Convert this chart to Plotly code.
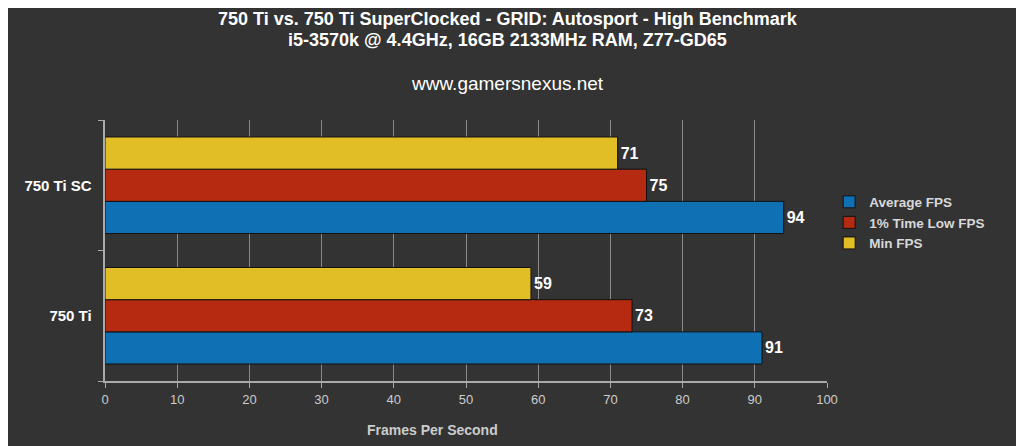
import plotly.graph_objects as go

gpus = ['750 Ti', '750 Ti SC']
avg_fps = [91, 94]
low_fps = [73, 75]
min_fps = [59, 71]
x_ticks = [0, 10, 20, 30, 40, 50, 60, 70, 80, 90, 100]

series = [
    ('Average FPS', avg_fps, '#1070b4'),
    ('1% Time Low FPS', low_fps, '#b52a10'),
    ('Min FPS', min_fps, '#e2be26'),
]

fig = go.Figure()
for name, vals, col in series:
    fig.add_trace(go.Bar(
        name=name, y=gpus, x=vals, orientation='h',
        marker=dict(color=col, line=dict(color='#111111', width=1)),
        text=['<b>%d</b>' % v for v in vals], textposition='outside',
        textfont=dict(family='Liberation Sans', size=16, color='#ffffff'),
        cliponaxis=False,
    ))

# page has an 8px body margin, so the figure is a bit smaller than the window
title_font = dict(family='Liberation Sans', size=18, color='#ffffff')
fig.update_layout(
    width=1016, height=438,
    paper_bgcolor='#333333', plot_bgcolor='#333333',
    barmode='group', bargap=0.26, bargroupgap=0,
    margin=dict(l=97, r=197, t=112, b=65),
    legend=dict(
        x=1.003, y=0.745, xanchor='left', yanchor='top',
        traceorder='normal',
        font=dict(family='Liberation Sans', size=13.5, color='#d8d8d8', weight='bold'),
        itemwidth=30, tracegroupgap=0,
        bgcolor='rgba(0,0,0,0)',
    ),
    showlegend=True,
    annotations=[
        dict(text='<b>750 Ti vs. 750 Ti SuperClocked - GRID: Autosport - High Benchmark</b>',
             xref='paper', yref='paper', x=0.558, y=1.387, xanchor='center', yanchor='middle',
             showarrow=False, font=title_font),
        dict(text='<b>i5-3570k @ 4.4GHz, 16GB 2133MHz RAM, Z77-GD65</b>',
             xref='paper', yref='paper', x=0.558, y=1.307, xanchor='center', yanchor='middle',
             showarrow=False, font=title_font),
        dict(text='www.gamersnexus.net', xref='paper', yref='paper',
             x=0.558, y=1.138, xanchor='center', yanchor='middle', showarrow=False,
             font=dict(family='Liberation Sans', size=19, color='#ffffff')),
        dict(text='<b>Frames Per Second</b>', xref='paper', yref='paper',
             x=0.453, y=-0.188, xanchor='center', yanchor='middle', showarrow=False,
             font=dict(family='Liberation Sans', size=14, color='#cccccc')),
    ],
)

fig.update_xaxes(
    range=[0, 100], tickvals=x_ticks,
    showgrid=True, gridcolor='#8a8a8a', gridwidth=1,
    showline=True, linecolor='#aaaaaa', linewidth=2, mirror=False,
    ticks='outside', ticklen=5, tickcolor='#aaaaaa',
    tickfont=dict(family='Liberation Sans', size=13, color='#cccccc'),
    zeroline=False,
)
fig.update_yaxes(
    type='category', categoryorder='array', categoryarray=gpus,
    showline=True, linecolor='#aaaaaa', linewidth=2,
    ticks='outside', ticklen=5, tickcolor='#aaaaaa', tickson='boundaries',
    tickfont=dict(family='Liberation Sans', size=15, color='#ffffff', weight='bold'),
    showgrid=False, ticksuffix='  ',
)

fig.write_html('out.html')
